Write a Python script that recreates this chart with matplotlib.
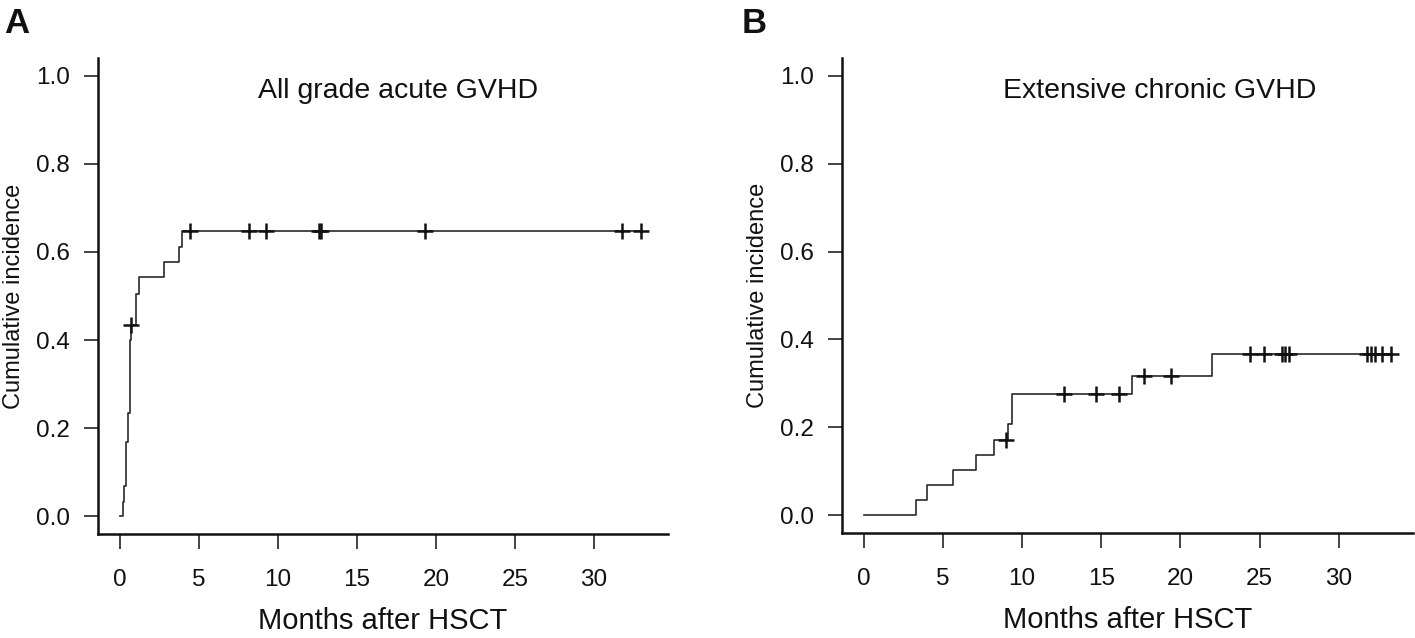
import numpy as np
import matplotlib
matplotlib.use("Agg")
import matplotlib.pyplot as plt

plt.rcParams['font.family'] = ['Liberation Sans', 'DejaVu Sans']

# ---- data ----
titles = ["All grade acute GVHD", "Extensive chronic GVHD"]
panel_labels = ["A", "B"]
x_label = "Months after HSCT"
y_label = "Cumulative incidence"
x_ticks = [0, 5, 10, 15, 20, 25, 30]
y_ticks = [0.0, 0.2, 0.4, 0.6, 0.8, 1.0]
y_tick_labels = ["0.0", "0.2", "0.4", "0.6", "0.8", "1.0"]

# Panel A: event times (months) and cumulative incidence after each step
times_A = [0, 0.21, 0.30, 0.42, 0.55, 0.68, 0.72, 1.06, 1.22, 2.83, 3.76, 3.97]
values_A = [0, 0.032, 0.069, 0.168, 0.235, 0.400, 0.434, 0.505, 0.543, 0.578, 0.612, 0.647]
censor_A = [0.74, 4.43, 8.18, 9.24, 12.6, 12.75, 19.3, 31.75, 33.0]

# Panel B
times_B = [0, 3.32, 4.01, 5.65, 7.12, 8.24, 9.09, 9.39, 16.96, 22.0]
values_B = [0, 0.034, 0.069, 0.103, 0.138, 0.172, 0.207, 0.276, 0.318, 0.366]
censor_B = [8.99, 12.68, 14.66, 16.15, 17.72, 19.4, 24.4, 25.26, 26.4, 26.6,
            26.85, 31.8, 32.0, 32.3, 32.7, 33.3]

W, H = 1415, 638
fig = plt.figure(figsize=(W / 100, H / 100), dpi=100)

def px_axes(left, right, top, bottom):
    return fig.add_axes([left / W, 1 - bottom / H, (right - left) / W, (bottom - top) / H])

axA = px_axes(98, 668, 58, 534)
axB = px_axes(842, 1413, 58, 533)

title_pos = [(17.6, 0.965), (18.7, 0.965)]
label_px = [(4, 7), (742, 7)]

for ax, times, values, cens, title, tpos, plabel, lpx in zip(
        [axA, axB], [times_A, times_B], [values_A, values_B], [censor_A, censor_B],
        titles, title_pos, panel_labels, label_px):
    t = np.array(times + [max(cens)])
    v = np.array(values + [values[-1]])
    ax.step(t, v, where='post', color='#2a2a2a', lw=1.2)
    c = np.array(cens)
    idx = np.searchsorted(np.array(times), c, side='right') - 1
    cv = np.array(values)[idx]
    ax.plot(c, cv, linestyle='none', marker='+', color='#111111',
            markersize=11.5, markeredgewidth=1.8)

    ax.set_xlim(-1.36, 34.68)
    ax.set_ylim(-0.04, 1.04)
    ax.set_xticks(x_ticks)
    ax.set_xticklabels([str(x) for x in x_ticks])
    ax.set_yticks(y_ticks)
    ax.set_yticklabels(y_tick_labels)
    for s in ['top', 'right']:
        ax.spines[s].set_visible(False)
    for s in ['left', 'bottom']:
        ax.spines[s].set_linewidth(1.8)
        ax.spines[s].set_color('#111111')
    ax.tick_params(axis='x', direction='out', length=11, width=1.1, pad=14,
                   labelsize=17.5, colors='#111111')
    ax.tick_params(axis='y', direction='out', length=10, width=1.1, pad=10,
                   labelsize=17.5, colors='#111111')
    ax.set_xlabel(x_label, fontsize=21, color='#111111')
    ax.xaxis.set_label_coords(0.5, -(621 - 534) / 476)
    ax.xaxis.label.set_va('center')
    ax.set_ylabel(y_label, fontsize=17, color='#111111')
    ax.yaxis.set_label_coords(-(98 - 14) / 570, 0.5)
    ax.yaxis.label.set_va('center')
    ax.text(tpos[0], tpos[1], title, ha='center', va='center', fontsize=20.5,
            color='#111111')
    fig.text(lpx[0] / W, 1 - lpx[1] / H, plabel, ha='left', va='top',
             fontsize=25, fontweight='bold', color='#111111')

fig.savefig("out.png", dpi=100)
